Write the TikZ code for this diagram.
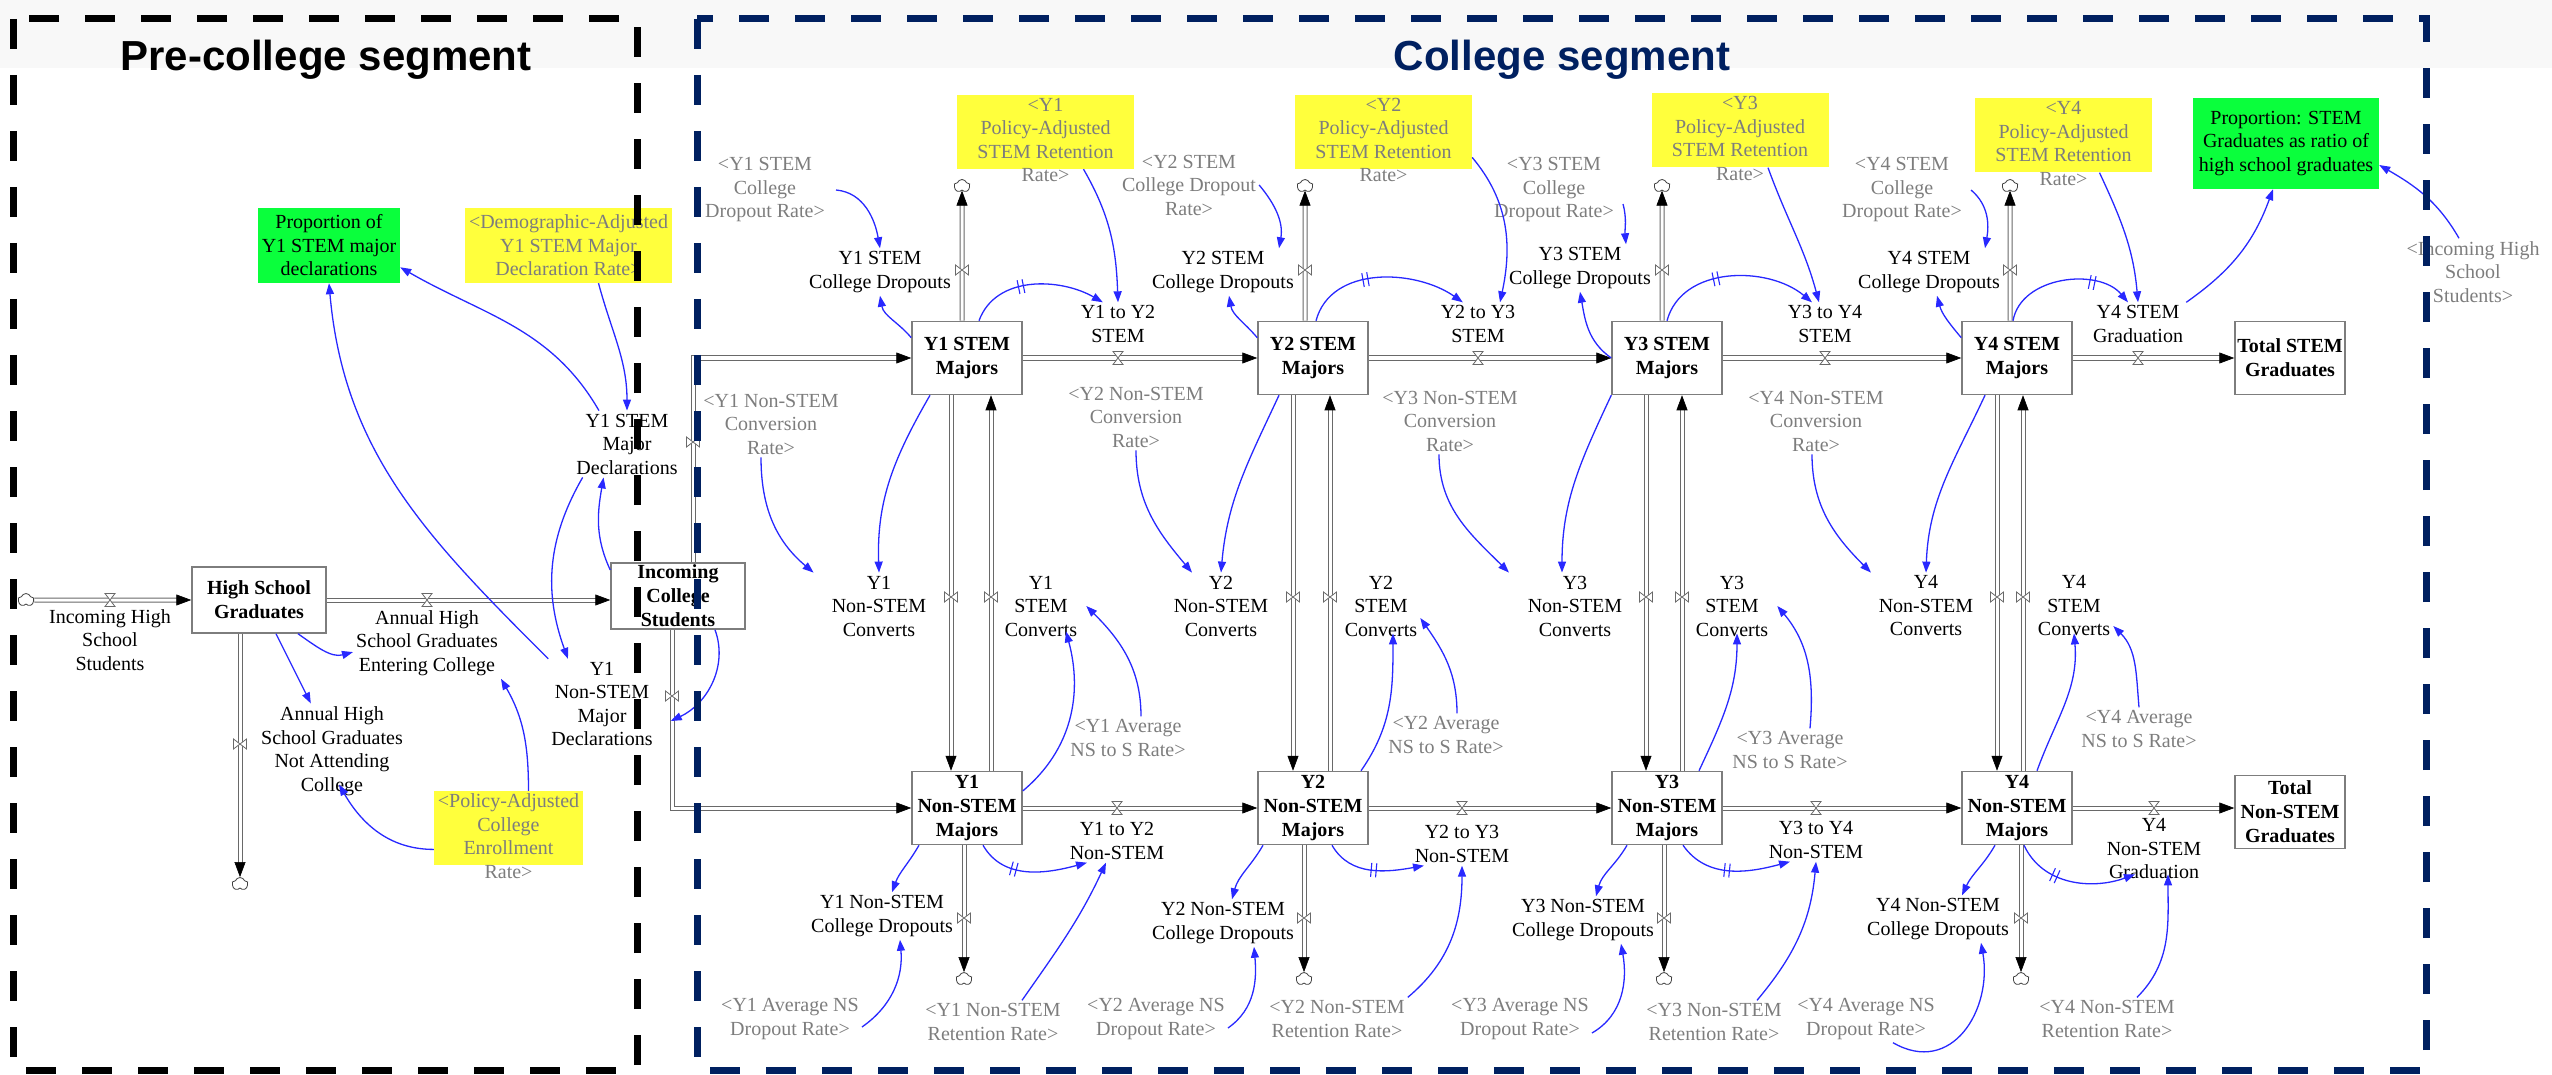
\documentclass[tikz,border=0pt]{standalone}
\usepackage{fontspec}
\setmainfont{Liberation Serif}
\newfontfamily\titlefont{Liberation Sans}
\usetikzlibrary{arrows.meta,shapes.symbols,decorations.markings,calc}

\definecolor{pipegray}{RGB}{105,105,105}
\definecolor{boxgray}{RGB}{125,125,125}
\definecolor{refgray}{RGB}{125,125,125}
\definecolor{linkblue}{RGB}{40,40,255}
\definecolor{hlyellow}{RGB}{255,255,60}
\definecolor{hlgreen}{RGB}{10,255,60}
\definecolor{navy}{RGB}{0,32,96}
\definecolor{band}{RGB}{248,248,248}

\tikzset{
  txt/.style={font=\fontsize{20}{23.5}\selectfont, align=center, inner sep=3pt},
  lbl/.style={txt, text=black},
  refl/.style={txt, text=refgray},
  stock/.style={draw=boxgray, line width=1.5pt, fill=white, minimum width=110pt,
    minimum height=73pt, inner sep=0pt, align=center,
    font=\fontsize{20}{24}\selectfont\bfseries},
  ybox/.style={fill=hlyellow, inner sep=0pt},
  gbox/.style={fill=hlgreen, txt, text=black},
  segtitle/.style={font=\titlefont\bfseries\fontsize{42}{48}\selectfont, inner sep=0pt, anchor=base},
  pipe/.style={draw=pipegray, line width=1pt, double=white, double distance=3pt},
  pipetip/.style={draw=white, line width=0.6pt, -{Triangle[length=15pt,width=11pt,color=black]}},
  cloudsym/.style={cloud, cloud puffs=5, cloud puff arc=140, aspect=1.2, draw=black!75, fill=white,
    line width=0.8pt, minimum width=16pt, minimum height=13pt, inner sep=0pt},
  infolink/.style={draw=linkblue, line width=1.3pt, -{Triangle[length=11pt,width=8pt]}},
  lagged/.style={infolink, postaction={decorate, decoration={markings,
    mark=at position #1 with {\draw[-, linkblue, line width=1.1pt]
      (-2.5pt,-7pt) -- (-2.5pt,7pt) (2.5pt,-7pt) -- (2.5pt,7pt);}}}},
  valve/.pic={\draw[draw=pipegray, line width=0.8pt, fill=white]
    (-5pt,-6.5pt) -- (5pt,-6.5pt) -- (-5pt,6.5pt) -- (5pt,6.5pt) -- cycle;}
}

% a flow pipe with its arrowhead at the end of the path
\newcommand\flowline[1]{\draw[pipe,shorten >=12pt] #1;\draw[pipetip] #1;}

\begin{document}
\begin{tikzpicture}[x=1pt,y=-1pt]
\useasboundingbox (0,0) rectangle (2552,1075);
\fill[band] (0,0) rectangle (2552,68);

% ---------------- pre-college stocks and variables ----------------
\node[stock, minimum width=134pt, minimum height=66pt] (hsg) at (259,600) {High School\\Graduates};
\node[stock, minimum width=134pt, minimum height=66pt] (ics) at (678,596) {Incoming\\College\\Students};
\node[cloudsym] (cl0) at (26,600) {};
\node[cloudsym] (cl1) at (240,884) {};

\node[lbl] (ihs) at (110,640) {Incoming High\\School\\Students};
\node[lbl] (aenter) at (427,643) {Annual High\\School Graduates\\Entering College};
\node[lbl] (anot) at (332,751) {Annual High\\School Graduates\\Not Attending\\College};
\node[ybox, minimum width=149pt, minimum height=74pt] (polbox) at (508.5,828) {};
\node[refl] (pol) at (508.5,836) {<Policy-Adjusted\\College\\Enrollment\\Rate>};
\node[gbox, minimum width=142pt, minimum height=75pt] (prop1) at (329,245.5) {Proportion of\\Y1 STEM major\\declarations};
\node[ybox, refl, minimum width=207pt, minimum height=75pt] (demo) at (568.5,245.5) {<Demographic-Adjusted\\Y1 STEM Major\\Declaration Rate>};
\node[lbl] (y1smd) at (627,444) {Y1 STEM\\Major\\Declarations};
\node[lbl] (y1nsmd) at (602,704) {Y1\\Non-STEM\\Major\\Declarations};

\coordinate (xsmd) at (693,0);
\coordinate (xnsmd) at (672,0);
\coordinate (xanot) at (240,0);

% ---------------- college stocks ----------------
\foreach \i/\x in {1/967,2/1313,3/1667,4/2017}{
  \node[stock] (s\i) at (\x,358) {Y\i\ STEM\\Majors};
  \node[stock] (n\i) at (\x,808) {Y\i\\Non-STEM\\Majors};
}
\node[stock] (tsg) at (2290,358) {Total STEM\\Graduates};
\node[stock] (tnsg) at (2290,812) {Total\\Non-STEM\\Graduates};

% clouds for the dropout flows
\foreach \i/\a/\b in {1/962/964,2/1305/1304,3/1662/1664,4/2010/2021}{
  \node[cloudsym] (cs\i) at (\a,186) {};
  \node[cloudsym] (cn\i) at (\b,979) {};
}

% flow names
\foreach \i/\a/\b in {1/879/1041,2/1221/1381,3/1575/1732,4/1926/2074}{
  \node[lbl] (nc\i) at (\a,606) {Y\i\\Non-STEM\\Converts};
  \node[lbl] (sc\i) at (\b,606) {Y\i\\STEM\\Converts};
}
\foreach \i/\a/\b in {1/880/272,2/1223/272,3/1580/268,4/1929/272}{
  \node[lbl] (sd\i) at (\a,\b) {Y\i\ STEM\\College Dropouts};
}
\foreach \i/\a/\b in {1/882/916,2/1223/923,3/1583/920,4/1938/919}{
  \node[lbl] (nd\i) at (\a,\b) {Y\i\ Non-STEM\\College Dropouts};
}
\node[lbl] (ft1) at (1118,324) {Y1 to Y2\\STEM};
\node[lbl] (ft2) at (1478,324) {Y2 to Y3\\STEM};
\node[lbl] (ft3) at (1825,324) {Y3 to Y4\\STEM};
\node[lbl] (ft4) at (2138,324) {Y4 STEM\\Graduation};
\node[lbl] (gt1) at (1117,841) {Y1 to Y2\\Non-STEM};
\node[lbl] (gt2) at (1462,844) {Y2 to Y3\\Non-STEM};
\node[lbl] (gt3) at (1816,840) {Y3 to Y4\\Non-STEM};
\node[lbl] (gt4) at (2154,849) {Y4\\Non-STEM\\Graduation};

% referenced rates
\node[refl] (rsd1) at (765,190) {<Y1 STEM\\College\\Dropout Rate>};
\node[refl] (rsd2) at (1189,185) {<Y2 STEM\\College Dropout\\Rate>};
\node[refl] (rsd3) at (1554,190) {<Y3 STEM\\College\\Dropout Rate>};
\node[refl] (rsd4) at (1902,190) {<Y4 STEM\\College\\Dropout Rate>};
\foreach \i/\x/\y in {1/1045.5/132,2/1383.5/132,3/1740/130.5,4/2063.5/135.5}{
  \node[ybox, minimum width=177pt, minimum height=74pt] (rbox\i) at (\x,\y) {};
  \node[refl] (ret\i) at (\x,\y+8) {<Y\i\\Policy-Adjusted\\STEM Retention\\Rate>};
}
\foreach \i/\x/\y in {1/771/424,2/1136/417,3/1450/421,4/1816/421}{
  \node[refl] (rnc\i) at (\x,\y) {<Y\i\ Non-STEM\\Conversion\\Rate>};
}
\foreach \i/\x/\y in {1/1128/738,2/1446/735,3/1790/750,4/2139/729}{
  \node[refl] (rav\i) at (\x,\y) {<Y\i\ Average\\NS to S Rate>};
}
\foreach \i/\x/\y in {1/790/1019,2/1156/1019,3/1520/1019,4/1866/1019}{
  \node[refl] (rnd\i) at (\x,\y) {<Y\i\ Average NS\\Dropout Rate>};
}
\foreach \i/\x/\y in {1/993/1022,2/1337/1019,3/1714/1022,4/2107/1019}{
  \node[refl] (rnr\i) at (\x,\y) {<Y\i\ Non-STEM\\Retention Rate>};
}
\node[gbox, minimum width=186pt, minimum height=91pt] (propS) at (2286,143.5) {Proportion: STEM\\Graduates as ratio of\\high school graduates};
\node[refl] (rihs) at (2473,272) {<Incoming High\\School\\Students>};

% ---------------- pipes ----------------
\flowline{(cl0.east) -- (hsg.west)}
\flowline{(hsg.east) -- (ics.west |- hsg.east)}
\flowline{(hsg.south -| xanot) -- (cl1.north)}
\flowline{(ics.north -| xsmd) |- (s1.west)}
\flowline{(ics.south -| xnsmd) |- (n1.west)}
\flowline{(s1.east) -- (s2.west)}
\flowline{(s2.east) -- (s3.west)}
\flowline{(s3.east) -- (s4.west)}
\flowline{(s4.east) -- (tsg.west)}
\flowline{(n1.east) -- (n2.west)}
\flowline{(n2.east) -- (n3.west)}
\flowline{(n3.east) -- (n4.west)}
\flowline{(n4.east) -- (n4.east -| tnsg.west)}
\foreach \i/\d/\u in {1/951/991,2/1293/1330,3/1646/1682,4/1997/2023}{
  \coordinate (xd\i) at (\d,0);
  \coordinate (xu\i) at (\u,0);
  \flowline{(s\i.south -| xd\i) -- (n\i.north -| xd\i)}
  \flowline{(n\i.north -| xu\i) -- (s\i.south -| xu\i)}
}
\foreach \i in {1,2,3,4}{
  \flowline{(s\i.north -| cs\i) -- (cs\i.south)}
  \flowline{(n\i.south -| cn\i) -- (cn\i.north)}
}

% ---------------- valves ----------------
\pic at (110,600) {valve};
\pic at (427,600) {valve};
\pic[rotate=90] at (240,744) {valve};
\pic[rotate=90] at (693,442) {valve};
\pic[rotate=90] at (672,696) {valve};
\foreach \x in {1118,1478,1825,2138}{ \pic at (\x,358) {valve}; }
\foreach \x in {1117,1462,1816,2154}{ \pic at (\x,808) {valve}; }
\foreach \x in {951,991,1293,1330,1646,1682,1997,2023}{ \pic[rotate=90] at (\x,597) {valve}; }
\foreach \x in {962,1305,1662,2010}{ \pic[rotate=90] at (\x,270) {valve}; }
\foreach \x in {964,1304,1664,2021}{ \pic[rotate=90] at (\x,918) {valve}; }

% ---------------- information links ----------------
% pre-college
\draw[infolink] ([xshift=39pt]hsg.south) to[out=-35,in=195] (aenter.187);
\draw[infolink] ([xshift=17pt]hsg.south) -- (anot.114);
\draw[infolink] (polbox.196) to[out=180,in=-60] ([xshift=7pt,yshift=14pt]anot.south);
\draw[infolink] ([xshift=20pt]polbox.north) to[out=90,in=-60] (aenter.south east);
\draw[infolink] ([xshift=30pt]demo.south) to[out=-75,in=90] (y1smd.north);
\draw[infolink] (y1smd.130) to[out=120,in=-30] (prop1.-17);
\draw[infolink] (y1nsmd.north west) to[out=135,in=-85] (prop1.south);
\draw[infolink] (ics.159) to[out=115,in=-100] (y1smd.-125);
\draw[infolink] (y1smd.-143) to[out=-120,in=110] (y1nsmd.127);
\draw[infolink] ([xshift=37pt]ics.south) to[out=-70,in=25] ([xshift=15pt,yshift=-17pt]y1nsmd.east);

% Y1
\draw[infolink] ([xshift=8pt]rsd1.east) to[out=-5,in=100] (sd1.north);
\draw[infolink] (s1.160) to[out=130,in=-80] (sd1.south);
\draw[lagged=0.4] ([xshift=12pt]s1.north) to[out=70,in=150] (ft1.125);
\draw[infolink] ([xshift=38pt]rbox1.south) to[out=-60,in=92] (ft1.north);
\draw[infolink] ([xshift=-37pt]s1.south) to[out=-120,in=92] (nc1.north);
\draw[infolink] ([xshift=-10pt]rnc1.south) to[out=-90,in=140] ([xshift=-15pt]nc1.north west);
\draw[infolink] (n1.17) to[out=40,in=-75] ([xshift=25pt,yshift=8pt]sc1.south);
\draw[infolink] ([xshift=13pt]rav1.north) to[out=90,in=-45] ([xshift=6pt]sc1.east);
\draw[lagged=0.35] ([xshift=16pt]n1.south) to[out=-60,in=195] ([xshift=-30pt]gt1.south);
\draw[infolink] ([xshift=29pt]rnr1.north) to[out=55,in=-115] ([xshift=-11pt]gt1.south);
\draw[infolink] ([xshift=-48pt]n1.south) to[out=-120,in=70] ([xshift=10pt]nd1.north);
\draw[infolink] ([yshift=-8pt]rnd1.east) to[out=35,in=-85] ([xshift=18pt]nd1.south);

% Y2
\draw[infolink] (rsd2.east) to[out=-50,in=80] ([xshift=56pt]sd2.north);
\draw[infolink] (s2.160) to[out=130,in=-80] ([xshift=6pt]sd2.south);
\draw[lagged=0.4] ([xshift=3pt]s2.north) to[out=75,in=145] (ft2.125);
\draw[infolink] (rbox2.-16) to[out=-50,in=78] ([xshift=22pt]ft2.north);
\draw[infolink] ([xshift=-34pt]s2.south) to[out=-115,in=85] (nc2.north);
\draw[infolink] (rnc2.south) to[out=-90,in=130] ([xshift=-29pt]nc2.north);
\draw[infolink] ([xshift=48pt]n2.north) to[out=55,in=-90] ([xshift=12pt,yshift=6pt]sc2.south);
\draw[infolink] ([xshift=11pt]rav2.north) to[out=90,in=-55] ([yshift=-12pt]sc2.east);
\draw[lagged=0.5] ([xshift=19pt]n2.south) to[out=-60,in=190] ([xshift=-38pt]gt2.south);
\draw[infolink] (rnr2.north east) to[out=40,in=-90] (gt2.south);
\draw[infolink] ([xshift=-50pt]n2.south) to[out=-120,in=75] ([xshift=9pt]nd2.north);
\draw[infolink] ([yshift=-9pt]rnd2.east) to[out=35,in=-85] ([xshift=31pt]nd2.south);

% Y3
\draw[infolink] ([xshift=6pt,yshift=-14pt]rsd3.east) to[out=-75,in=95] ([xshift=46pt]sd3.north);
\draw[infolink] (s3.west) to[out=145,in=-80] (sd3.south);
\draw[lagged=0.4] (s3.north) to[out=75,in=140] ([xshift=-13pt]ft3.north);
\draw[infolink] ([xshift=28pt]rbox3.south) to[out=-70,in=105] ([xshift=-6pt]ft3.north);
\draw[infolink] (s3.south west) to[out=-115,in=90] ([xshift=-13pt]nc3.north);
\draw[infolink] ([xshift=-11pt]rnc3.south) to[out=-90,in=135] ([xshift=-66pt]nc3.north);
\draw[infolink] ([xshift=32pt]n3.north) to[out=65,in=-90] ([xshift=5pt,yshift=6pt]sc3.south);
\draw[infolink] ([xshift=20pt]rav3.north) to[out=85,in=-50] ([xshift=6pt]sc3.east);
\draw[lagged=0.45] ([xshift=16pt]n3.south) to[out=-55,in=195] ([xshift=-26pt]gt3.south);
\draw[infolink] ([xshift=43pt]rnr3.north) to[out=50,in=-95] (gt3.south);
\draw[infolink] ([xshift=-40pt]n3.south) to[out=-120,in=75] ([xshift=13pt]nd3.north);
\draw[infolink] ([yshift=-14pt]rnd3.east) to[out=30,in=-80] ([xshift=38pt]nd3.south);

% Y4
\draw[infolink] ([xshift=6pt]rsd4.east) to[out=-40,in=80] ([xshift=56pt]sd4.north);
\draw[infolink] (s4.160) to[out=130,in=-75] ([xshift=8pt]sd4.south);
\draw[lagged=0.7] ([xshift=-4pt]s4.north) to[out=80,in=130] ([xshift=-10pt]ft4.north);
\draw[infolink] ([xshift=36pt]rbox4.south) to[out=-65,in=95] (ft4.north);
\draw[infolink] ([xshift=-32pt]s4.south) to[out=-115,in=88] (nc4.north);
\draw[infolink] ([xshift=-4pt]rnc4.south) to[out=-90,in=135] ([xshift=-55pt]nc4.north);
\draw[infolink] ([xshift=20pt]n4.north) to[out=70,in=-85] ([yshift=6pt]sc4.south);
\draw[infolink] (rav4.north) to[out=95,in=-45] ([yshift=-20pt]sc4.east);
\draw[lagged=0.35] ([xshift=7pt]n4.south) to[out=-65,in=200] ([xshift=-19pt,yshift=8pt]gt4.south);
\draw[infolink] ([xshift=30pt]rnr4.north) to[out=45,in=-90] ([xshift=14pt,yshift=8pt]gt4.south);
\draw[infolink] ([xshift=-22pt]n4.south) to[out=-120,in=65] ([xshift=24pt]nd4.north);
\draw[infolink] ([xshift=27pt]rnd4.south) to[out=-30,in=-80,looseness=1.3] ([xshift=43pt]nd4.south);

% graduation ratio
\draw[infolink] (ft4.north east) to[out=35,in=-110] ([xshift=-13pt]propS.south);
\draw[infolink] ([xshift=-14pt]rihs.north) to[out=120,in=-30] (propS.-13);

% ---------------- segment frames and titles ----------------
\draw[black, line width=7pt, dash pattern=on 30pt off 26pt] (13,19) rectangle (637,1070);
\draw[navy, line width=7pt, dash pattern=on 30pt off 26pt] (697,19) rectangle (2426,1070);
\node[segtitle] (pretitle) at (326,71) {Pre-college segment};
\node[segtitle, text=navy] (coltitle) at (1562,71) {College segment};
\end{tikzpicture}
\end{document}
